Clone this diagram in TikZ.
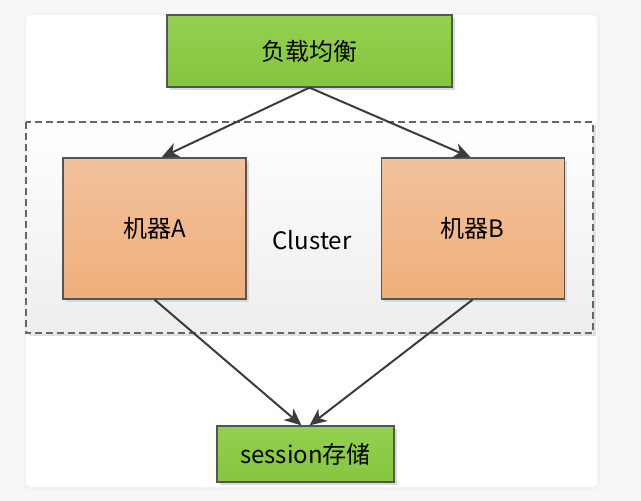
\documentclass[tikz,border=0pt]{standalone}
\usepackage{fontspec}
\setmainfont{Noto Sans CJK SC}
\usetikzlibrary{positioning,shadows,arrows.meta}

\definecolor{lbtop}{HTML}{94D04F}
\definecolor{lbbot}{HTML}{85C63E}
\definecolor{mtop}{HTML}{F2C29D}
\definecolor{mbot}{HTML}{EFAE7A}
\definecolor{edge}{HTML}{555555}
\definecolor{link}{HTML}{3C3C3C}

\tikzset{
    boxnode/.style={draw=edge, line width=1.2pt, inner sep=0pt,
        drop shadow={shadow xshift=3pt, shadow yshift=-3pt, fill=black!15, opacity=1}},
    greenbox/.style={boxnode, top color=lbtop, bottom color=lbbot},
    machine/.style={boxnode, top color=mtop, bottom color=mbot,
        minimum width=183pt, minimum height=141pt},
    flow/.style={draw=link, line width=2pt, -{Stealth[length=17pt,width=15pt,inset=5pt]}},
}

\begin{document}
\begin{tikzpicture}[x=1pt, y=-1pt, font=\fontsize{24}{28}\selectfont]
    \useasboundingbox (0,0) rectangle (641,501);
    \fill[black!3] (0,0) rectangle (641,501);
    % panel
    \fill[black!5, rounded corners=6pt] (24,13) rectangle (600,490);
    \fill[white, rounded corners=4pt] (26,15) rectangle (597,487);

    % cluster
    \fill[black!12] (29,125) rectangle (596,336);
    \shade[top color=white, bottom color=black!7] (26,122) rectangle (593,333);
    \draw[edge!90, line width=1.2pt, dash pattern=on 7pt off 4pt] (26,122) rectangle (593,333);
    \node (cl) at (312,240) {Cluster};

    \node [greenbox, minimum width=285pt, minimum height=72pt] (lb) at (309.5,51) {负载均衡};
    \node [machine] (ma) at (154.5,228.5) {机器A};
    \node [machine, right=134pt of ma] (mb) {机器B};
    \node [greenbox, minimum width=177pt, minimum height=56pt] (store) at (305.5,454) {session存储};

    \draw [flow] (lb.south) -- ([xshift=7pt]ma.north);
    \draw [flow] (lb.south) -- ([xshift=-2pt]mb.north);
    \draw [flow] (ma.south) -- ([xshift=-4pt]store.north);
    \draw [flow] (mb.south) -- ([xshift=4pt]store.north);
\end{tikzpicture}
\end{document}
